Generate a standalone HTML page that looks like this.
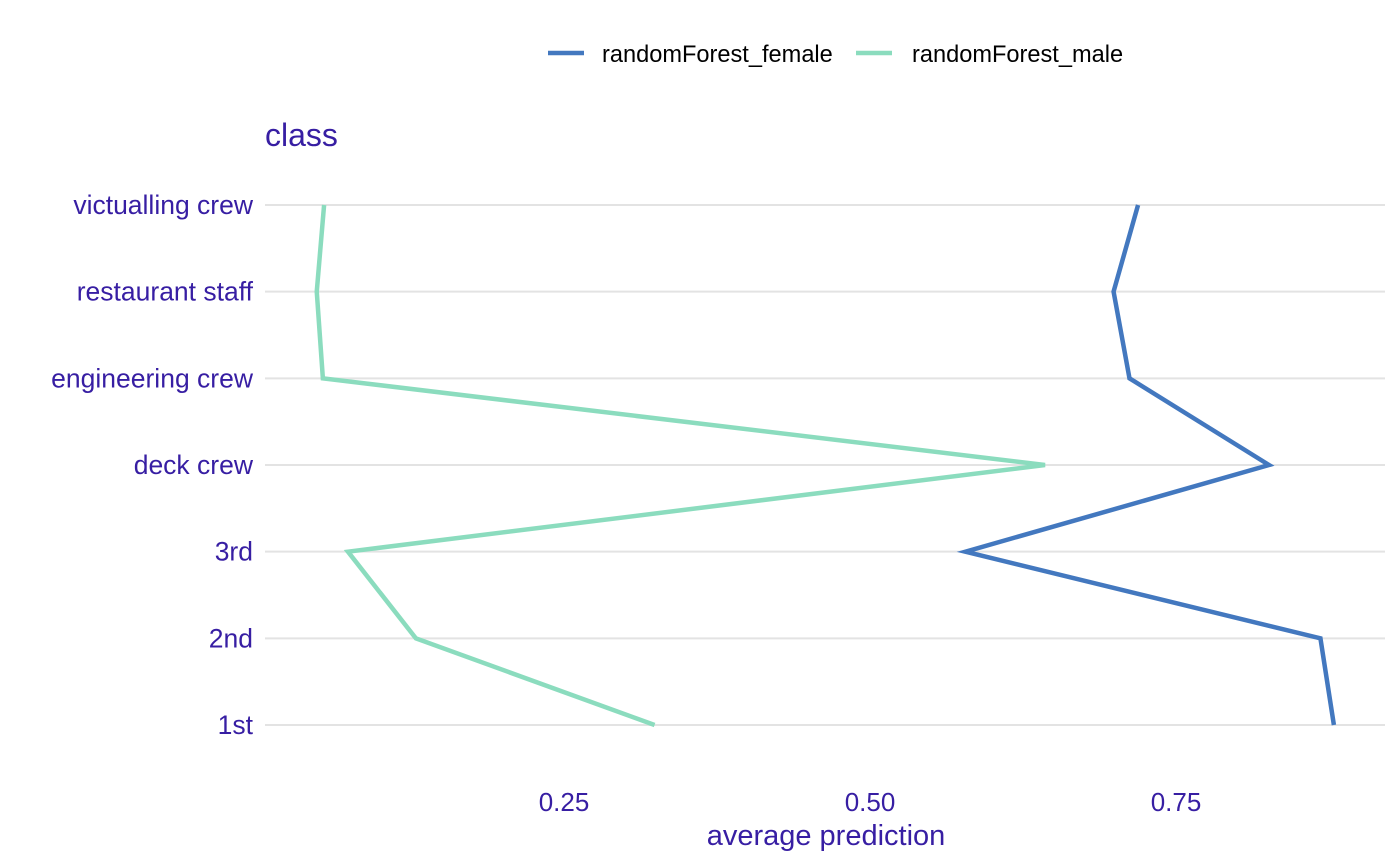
<!DOCTYPE html>
<html><head><meta charset="utf-8"><style>
body{margin:0;background:#fff;}
svg{display:block;font-family:"Liberation Sans",sans-serif;}
</style></head><body>
<svg id="chart" width="1400" height="866" xmlns="http://www.w3.org/2000/svg">
<g id="legend">
<line x1="548" y1="53" x2="584" y2="53" stroke="#4378bf" stroke-width="4.5"/>
<text x="602" y="62" font-size="23.6" fill="#000">randomForest_female</text>
<line x1="856" y1="53" x2="892" y2="53" stroke="#8bdcbe" stroke-width="4.5"/>
<text x="912" y="62" font-size="23.6" fill="#000">randomForest_male</text>
</g>
<text x="265" y="146" font-size="32" fill="#371ea3">class</text>
<text x="826" y="845" font-size="29" fill="#371ea3" text-anchor="middle">average prediction</text>
<g id="grid"></g><g id="ylabels"></g><g id="xlabels"></g><g id="series"></g>
</svg>
<script>
const categories=["victualling crew","restaurant staff","engineering crew","deck crew","3rd","2nd","1st"];
const femaleValues=[0.719,0.699,0.712,0.826,0.578,0.868,0.879];
const maleValues=[0.054,0.048,0.053,0.643,0.0735,0.129,0.324];
const xTicks=[0.25,0.50,0.75];
const xTickLabels=["0.25","0.50","0.75"];
const NS="http://www.w3.org/2000/svg";
function xs(v){return 258+v*1224;}
function ys(i){return 205+i*86.67;}
function mk(t,a,p){const e=document.createElementNS(NS,t);for(const k in a)e.setAttribute(k,a[k]);p.appendChild(e);return e;}
const grid=document.getElementById('grid'),yl=document.getElementById('ylabels'),xl=document.getElementById('xlabels'),ser=document.getElementById('series');
categories.forEach((c,i)=>{
 const g=mk('line',{x1:265,x2:1385,y1:ys(i),y2:ys(i),stroke:'#e3e3e3','stroke-width':2},grid);
 
 
 const t=mk('text',{x:253,y:ys(i)+9,'font-size':26.5,fill:'#371ea3','text-anchor':'end'},yl);
 t.textContent=c;
 
 
});
xTicks.forEach((v,i)=>{
 const t=mk('text',{x:xs(v),y:811,'font-size':26,fill:'#371ea3','text-anchor':'middle'},xl);
 t.textContent=xTickLabels[i];
 
 
});
function line(vals,color,name){
 const pts=vals.map((v,i)=>xs(v)+','+ys(i)).join(' ');
 const p=mk('polyline',{points:pts,fill:'none',stroke:color,'stroke-width':4.5,'stroke-linejoin':'miter'},ser);
 
 
}
line(maleValues,'#8bdcbe','line-male');
line(femaleValues,'#4378bf','line-female');
</script>
</body></html>
